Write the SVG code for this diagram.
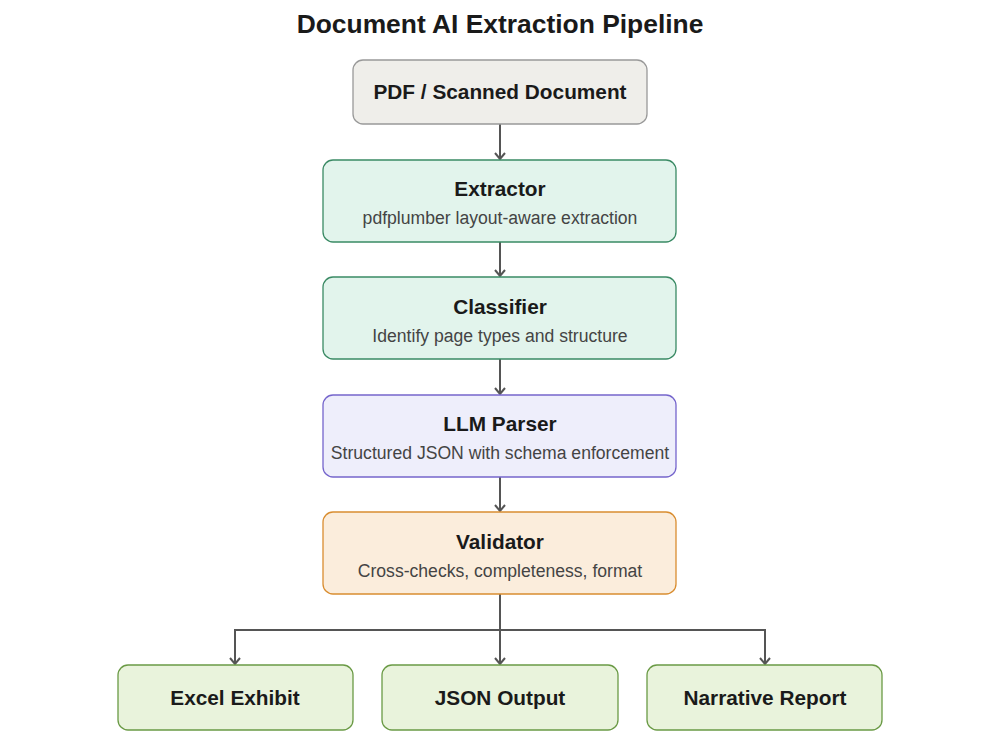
<svg xmlns="http://www.w3.org/2000/svg" width="1000" height="750" viewBox="0 0 1000 750">
<defs>
<marker id="arr" viewBox="0 0 12 12" refX="11" refY="6" markerWidth="12" markerHeight="12" markerUnits="userSpaceOnUse" orient="auto">
<path d="M5,1 L11,6 L5,11" fill="none" stroke="#555" stroke-width="2"/>
</marker>
<style>
text{font-family:"Liberation Sans",Arial,sans-serif;text-anchor:middle}
.t{font-size:20.8px;font-weight:bold;fill:#1a1a1a}
.s{font-size:17.6px;fill:#444}
.c{fill:none;stroke:#555;stroke-width:2}
.src{fill:#efeeea;stroke:#999;stroke-width:1.3}
.proc{fill:#e2f4ec;stroke:#3a8a64;stroke-width:1.3}
.llm{fill:#eeeefb;stroke:#7565cc;stroke-width:1.3}
.val{fill:#fbeddc;stroke:#d98d30;stroke-width:1.3}
.out{fill:#e9f3dc;stroke:#6a9a45;stroke-width:1.3}
</style>
</defs>
<rect width="1000" height="750" fill="#fff"/>
<text x="500" y="33" style="font-size:26.4px;font-weight:bold;fill:#1a1a1a">Document AI Extraction Pipeline</text>
<g id="connectors">
<path class="c" d="M500,124 V159" marker-end="url(#arr)"/>
<path class="c" d="M500,242 V276" marker-end="url(#arr)"/>
<path class="c" d="M500,359 V394" marker-end="url(#arr)"/>
<path class="c" d="M500,477 V511" marker-end="url(#arr)"/>
<path class="c" d="M500,594 V664" marker-end="url(#arr)"/>
<path class="c" d="M500,630 H235 V664" marker-end="url(#arr)"/>
<path class="c" d="M500,630 H765 V664" marker-end="url(#arr)"/>
</g>
<g id="pdf">
<rect class="src" x="353" y="60" width="294" height="64" rx="10"/>
<text class="t" x="500" y="99">PDF / Scanned Document</text>
</g>
<g id="extractor">
<rect class="proc" x="323" y="160" width="353" height="82" rx="10"/>
<text class="t" x="500" y="196">Extractor</text>
<text class="s" x="500" y="224">pdfplumber layout-aware extraction</text>
</g>
<g id="classifier">
<rect class="proc" x="323" y="277" width="353" height="82" rx="10"/>
<text class="t" x="500" y="314">Classifier</text>
<text class="s" x="500" y="342">Identify page types and structure</text>
</g>
<g id="llm">
<rect class="llm" x="323" y="395" width="353" height="82" rx="10"/>
<text class="t" x="500" y="431">LLM Parser</text>
<text class="s" x="500" y="459">Structured JSON with schema enforcement</text>
</g>
<g id="validator">
<rect class="val" x="323" y="512" width="353" height="82" rx="10"/>
<text class="t" x="500" y="549">Validator</text>
<text class="s" x="500" y="577">Cross-checks, completeness, format</text>
</g>
<g id="excel">
<rect class="out" x="118" y="665" width="235" height="65" rx="10"/>
<text class="t" x="235" y="705">Excel Exhibit</text>
</g>
<g id="json">
<rect class="out" x="382" y="665" width="236" height="65" rx="10"/>
<text class="t" x="500" y="705">JSON Output</text>
</g>
<g id="narrative">
<rect class="out" x="647" y="665" width="235" height="65" rx="10"/>
<text class="t" x="765" y="705">Narrative Report</text>
</g>
</svg>
